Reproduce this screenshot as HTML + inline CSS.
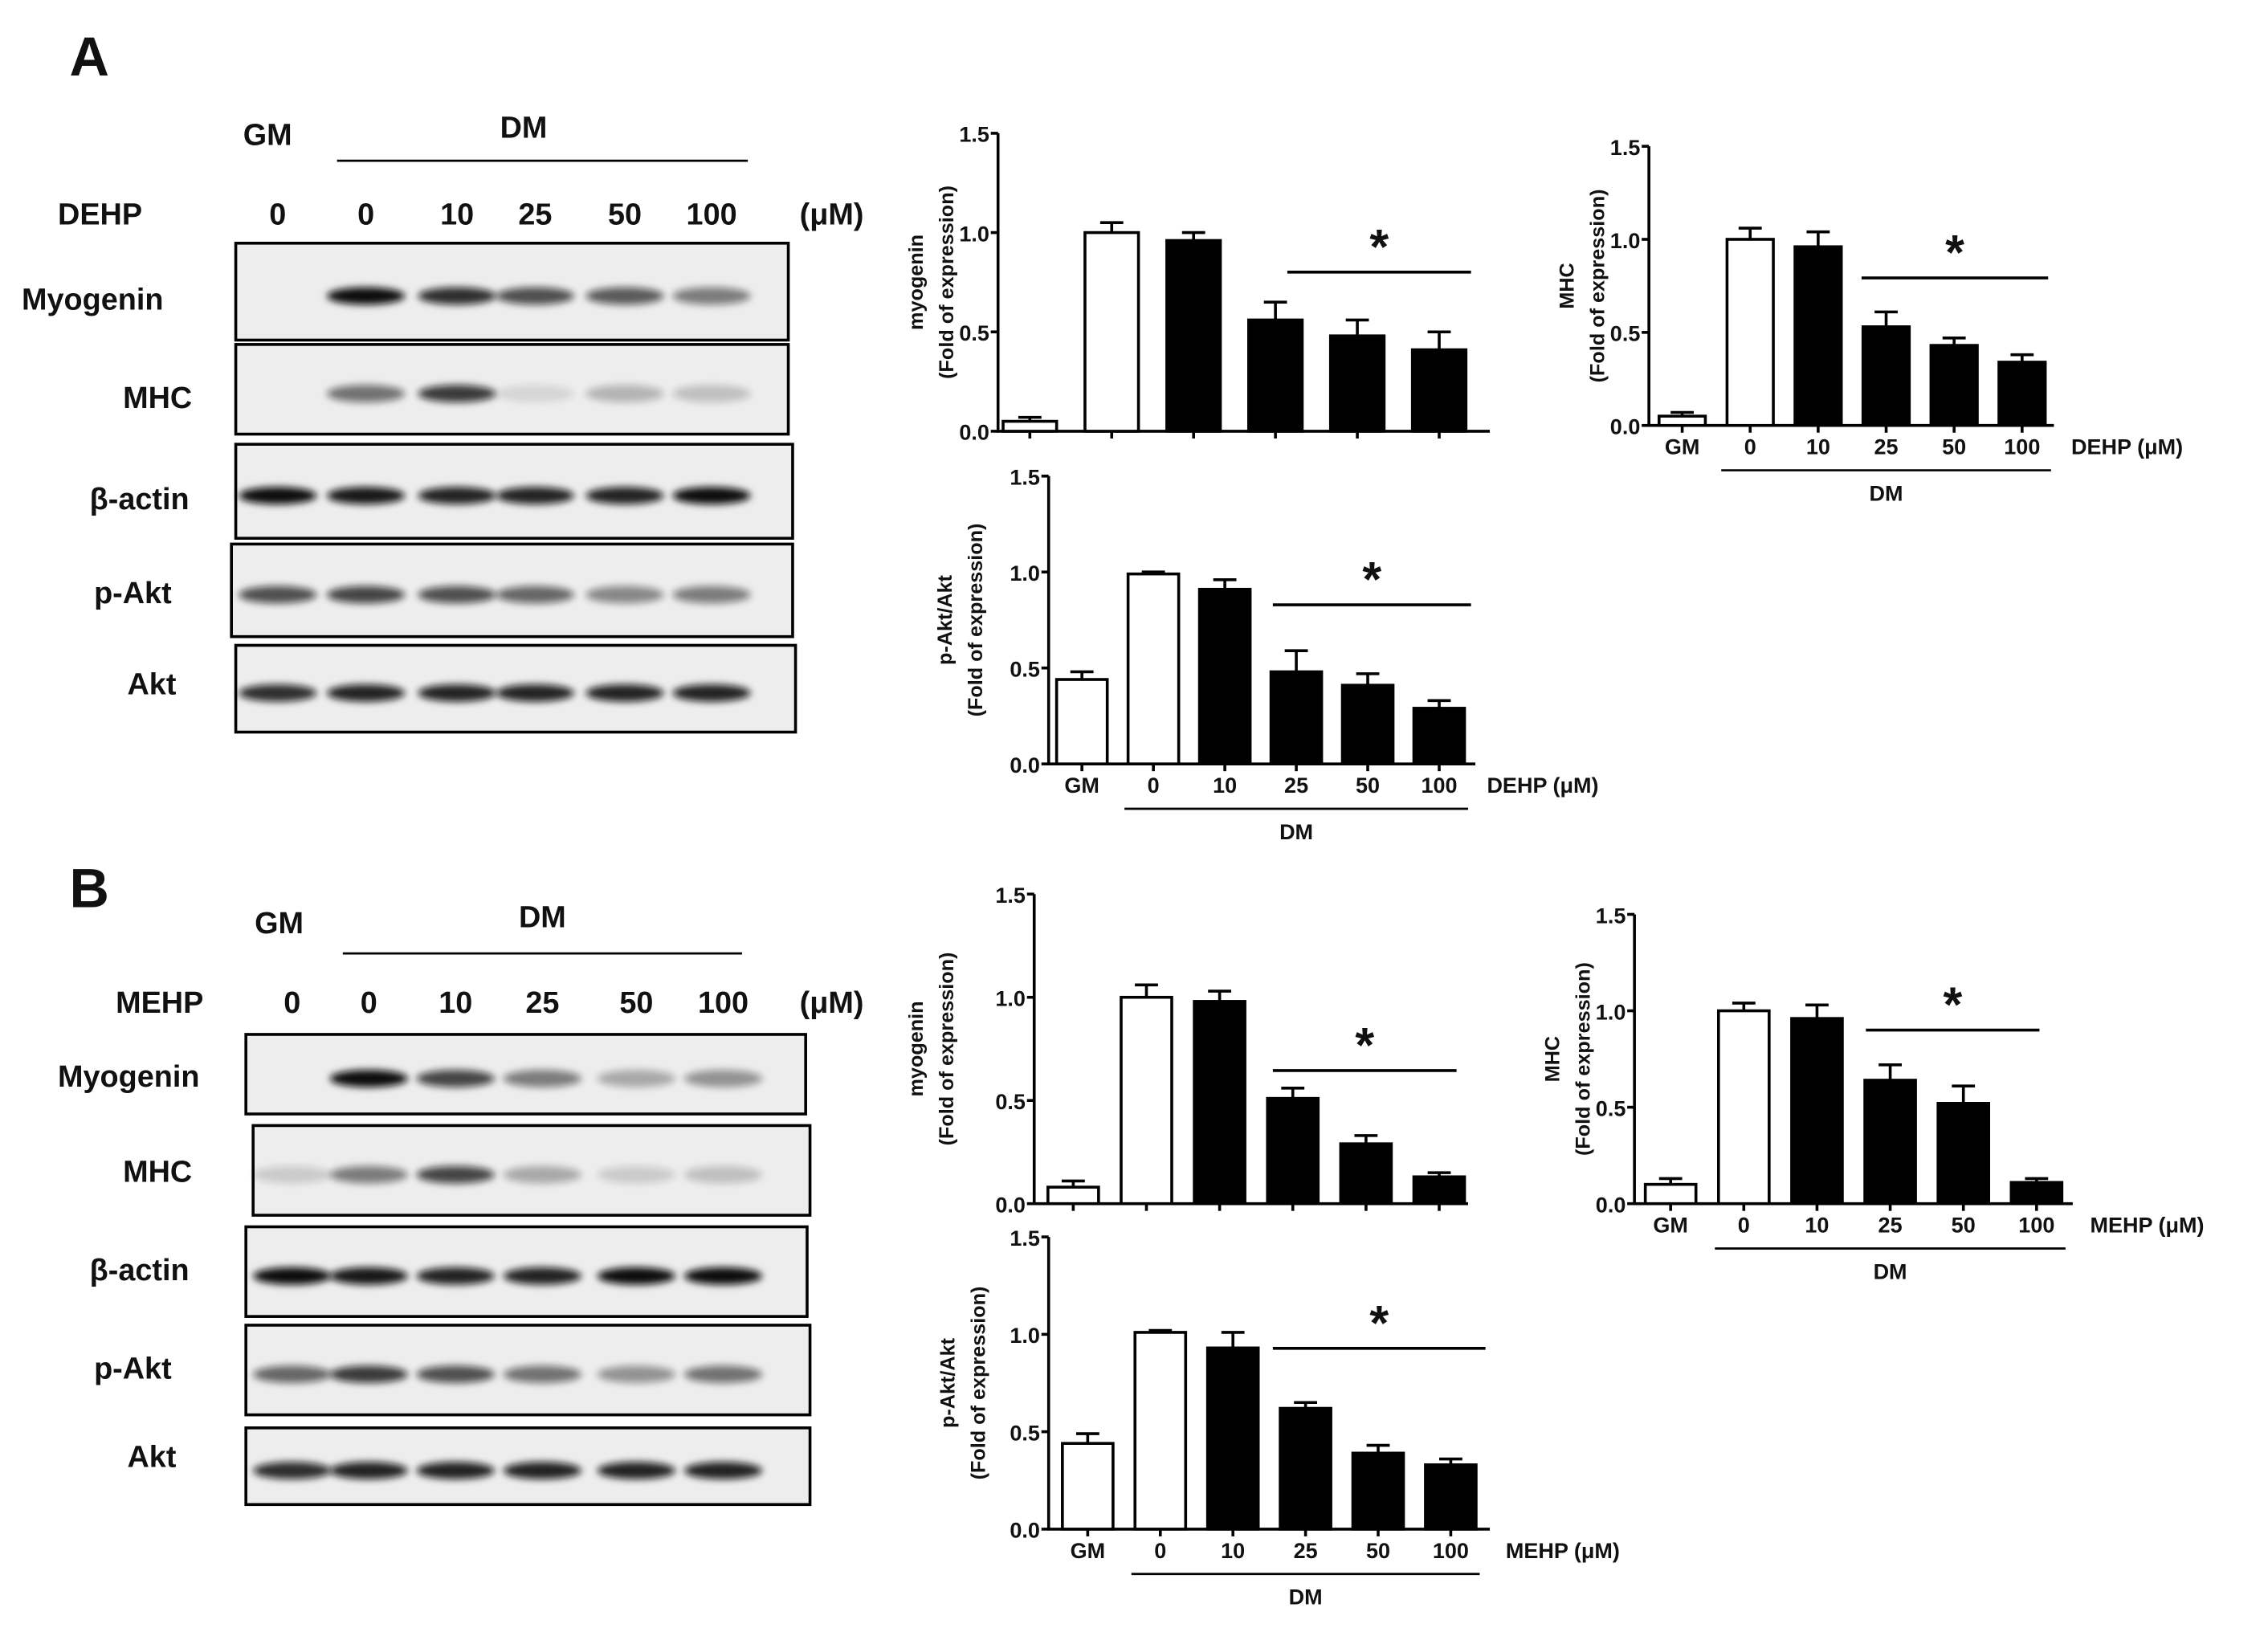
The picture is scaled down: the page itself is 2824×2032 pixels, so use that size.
<!DOCTYPE html>
<html><head><meta charset="utf-8"><style>
html,body{margin:0;padding:0;background:#fff;}
svg{display:block;font-family:"Liberation Sans",Arial,sans-serif;}
</style></head><body>
<svg id="fig" width="2824" height="2032" viewBox="0 0 1568 1128" xmlns="http://www.w3.org/2000/svg">
<defs>
<filter id="blur" x="-20%" y="-100%" width="140%" height="300%"><feGaussianBlur stdDeviation="2.5"/></filter>
</defs>
<g id="root"></g>
</svg>
<script>
// ---------- chart data ----------
const categories = ["GM","0","10","25","50","100"];
const yTicks = [0, 0.5, 1.0, 1.5];
const yTickLabels = ["0.0","0.5","1.0","1.5"];
const a1Values = [0.05, 1.0, 0.96, 0.56, 0.48, 0.41];
const a1Errors = [0.02, 0.05, 0.04, 0.09, 0.08, 0.09];
const a2Values = [0.05, 1.0, 0.96, 0.53, 0.43, 0.34];
const a2Errors = [0.02, 0.06, 0.08, 0.08, 0.04, 0.04];
const a3Values = [0.44, 0.99, 0.91, 0.48, 0.41, 0.29];
const a3Errors = [0.04, 0.01, 0.05, 0.11, 0.06, 0.04];
const b1Values = [0.08, 1.0, 0.98, 0.51, 0.29, 0.13];
const b1Errors = [0.03, 0.06, 0.05, 0.05, 0.04, 0.02];
const b2Values = [0.10, 1.0, 0.96, 0.64, 0.52, 0.11];
const b2Errors = [0.03, 0.04, 0.07, 0.08, 0.09, 0.02];
const b3Values = [0.44, 1.01, 0.93, 0.62, 0.39, 0.33];
const b3Errors = [0.05, 0.01, 0.08, 0.03, 0.04, 0.03];

const NS="http://www.w3.org/2000/svg";
const root=document.getElementById('root');
function el(tag,attrs,parent,text){const e=document.createElementNS(NS,tag);for(const k in attrs)e.setAttribute(k,attrs[k]);if(text!==undefined)e.textContent=text;(parent||root).appendChild(e);return e;}
function txt(x,y,s,size,name,parent,anchor,extra){const t=el('text',Object.assign({x:x,y:y,'font-size':size,'font-weight':'bold','text-anchor':anchor||'middle',fill:'#111'},extra||{}),parent,s);return t;}

function chart(cfg, values, errors){
  const g=el('g',{});
  
  
  const y0=cfg.y0, y1=cfg.y1;
  const ys=v=>y0-(v/1.5)*(y0-y1);
  const xs=i=>cfg.x0+cfg.first+i*cfg.step;
  const ax=el('path',{d:`M${cfg.ax} ${y1} V${y0} H${cfg.xend}`,stroke:'#000','stroke-width':2,fill:'none'},g);
  
  yTicks.forEach((t,i)=>{
    const tk=el('line',{x1:cfg.ax-5,x2:cfg.ax,y1:ys(t),y2:ys(t),stroke:'#000','stroke-width':2},g);
    
    txt(cfg.ax-6,ys(t)+6,yTickLabels[i],15,'y-tick-label',g,'end');
  });
  values.forEach((v,i)=>{
    const cx=xs(i), w=cfg.bw;
    const tk=el('line',{x1:cx,x2:cx,y1:y0,y2:y0+5,stroke:'#000','stroke-width':2},g);
    
    const eb=el('path',{d:`M${cx} ${ys(v)} V${ys(v+errors[i])} M${cx-8} ${ys(v+errors[i])} H${cx+8}`,stroke:'#000','stroke-width':2,fill:'none'},g);
    
    const b=el('rect',{x:cx-w/2,y:ys(v),width:w,height:y0-ys(v),fill:i<2?'#fff':'#000',stroke:'#000','stroke-width':2},g);
    
    if(cfg.labels) txt(cx,y0+20,categories[i],15,'x-tick-label',g);
  });
  if(cfg.labels){
    txt(cfg.unitX,y0+20,cfg.unit,15,'x-unit-label',g,'start');
    const dl=el('line',{x1:xs(1)-20,x2:xs(5)+20,y1:y0+31,y2:y0+31,stroke:'#000','stroke-width':1.5},g);
    
    txt((xs(1)+xs(5))/2,y0+52,'DM',15,'dm-label',g);
  }
  const sl=el('line',{x1:cfg.s1,x2:cfg.s2,y1:cfg.sy,y2:cfg.sy,stroke:'#000','stroke-width':2},g);
  
  txt((cfg.s1+cfg.s2)/2,cfg.sy-6,'*',34,'significance-star',g);
  const my=(y0+y1)/2;
  txt(cfg.lx,my,cfg.ylabel,14,'y-axis-title',g,'middle',{transform:`rotate(-90 ${cfg.lx} ${my})`});
  txt(cfg.lx+21,my,'(Fold of expression)',14,'y-axis-subtitle',g,'middle',{transform:`rotate(-90 ${cfg.lx+21} ${my})`});
}

// ---------- blots ----------
const laneIntA=[[0,1,.85,.7,.65,.5],[0,.55,.8,.1,.25,.2],[1,.95,.9,.9,.9,1],[.7,.75,.7,.6,.45,.5],[.85,.9,.9,.9,.9,.9]];
const laneIntB=[[0,1,.75,.5,.3,.4],[.15,.5,.75,.3,.15,.2],[1,.95,.9,.9,1,1],[.6,.8,.7,.55,.4,.55],[.85,.9,.9,.9,.9,.9]];
function blots(lanes, boxes, labels, intens, prefix){
  boxes.forEach((b,r)=>{
    const g=el('g',{});
    
    
    el('rect',{x:b[0],y:b[1],width:b[2]-b[0],height:b[3]-b[1],fill:'#ededed'},g);
    const cy=(b[1]+b[3])/2;
    lanes.forEach((lx,i)=>{
      const a=intens[r][i]; if(a<=0) return;
      el('ellipse',{cx:lx,cy:cy+3,rx:27,ry:6,fill:'#111',opacity:a,filter:'url(#blur)'},g);
    });
    el('rect',{x:b[0],y:b[1],width:b[2]-b[0],height:b[3]-b[1],fill:'none',stroke:'#000','stroke-width':2},g);
    txt(labels[r].x,labels[r].y,labels[r].t,21,'blot-label',g,'start');
  });
}

// Panel A
txt(48,52,'A',38,'panel-a-label',null,'start');
txt(185,100,'GM',21,'gm-label');
txt(362,95,'DM',21,'dm-label');
let l=el('line',{x1:233,x2:517,y1:111,y2:111,stroke:'#000','stroke-width':1.5});
txt(40,155,'DEHP',21,'treatment-label',null,'start');
[[192,'0'],[253,'0'],[316,'10'],[370,'25'],[432,'50'],[492,'100']].forEach(d=>txt(d[0],155,d[1],21,'dose-label'));
txt(575,155,'(μM)',21,'unit-label');
blots([192,253,316,370,432,492],
 [[163,168,545,235],[163,238,545,300],[163,307,548,372],[160,376,548,440],[163,446,550,506]],
 [{t:'Myogenin',x:15,y:214,name:'myogenin'},{t:'MHC',x:85,y:282,name:'mhc'},{t:'β-actin',x:62,y:352,name:'actin'},{t:'p-Akt',x:65,y:417,name:'pakt'},{t:'Akt',x:88,y:480,name:'akt'}],
 laneIntA,'a');

// Panel B
txt(48,627,'B',38,'panel-b-label',null,'start');
txt(193,645,'GM',21,'gm-label');
txt(375,641,'DM',21,'dm-label');
l=el('line',{x1:237,x2:513,y1:659,y2:659,stroke:'#000','stroke-width':1.5});
txt(80,700,'MEHP',21,'treatment-label',null,'start');
[[202,'0'],[255,'0'],[315,'10'],[375,'25'],[440,'50'],[500,'100']].forEach(d=>txt(d[0],700,d[1],21,'dose-label'));
txt(575,700,'(μM)',21,'unit-label');
blots([202,255,315,375,440,500],
 [[170,715,557,770],[175,778,560,840],[170,848,558,910],[170,916,560,978],[170,987,560,1040]],
 [{t:'Myogenin',x:40,y:751,name:'myogenin'},{t:'MHC',x:85,y:817,name:'mhc'},{t:'β-actin',x:62,y:885,name:'actin'},{t:'p-Akt',x:65,y:953,name:'pakt'},{t:'Akt',x:88,y:1014,name:'akt'}],
 laneIntB,'b');

// Charts
chart({name:'chart-a-myogenin',ax:690,x0:690,first:22,step:56.6,bw:37,y0:298,y1:92,xend:1030,s1:890,s2:1017,sy:188,lx:638,ylabel:'myogenin',labels:false},a1Values,a1Errors);
chart({name:'chart-a-mhc',ax:1140,x0:1140,first:23,step:47,bw:32,y0:294,y1:101,xend:1420,s1:1287,s2:1416,sy:192,lx:1088,ylabel:'MHC',labels:true,unit:'DEHP (μM)',unitX:1432},a2Values,a2Errors);
chart({name:'chart-a-pakt',ax:725,x0:725,first:23,step:49.4,bw:35,y0:528,y1:329,xend:1020,s1:880,s2:1017,sy:418,lx:658,ylabel:'p-Akt/Akt',labels:true,unit:'DEHP (μM)',unitX:1028},a3Values,a3Errors);
chart({name:'chart-b-myogenin',ax:715,x0:715,first:27,step:50.6,bw:35,y0:832,y1:618,xend:1015,s1:880,s2:1007,sy:740,lx:638,ylabel:'myogenin',labels:false},b1Values,b1Errors);
chart({name:'chart-b-mhc',ax:1130,x0:1130,first:25,step:50.6,bw:35,y0:832,y1:632,xend:1433,s1:1290,s2:1410,sy:712,lx:1078,ylabel:'MHC',labels:true,unit:'MEHP (μM)',unitX:1445},b2Values,b2Errors);
chart({name:'chart-b-pakt',ax:725,x0:725,first:27,step:50.2,bw:35,y0:1057,y1:855,xend:1030,s1:880,s2:1027,sy:932,lx:660,ylabel:'p-Akt/Akt',labels:true,unit:'MEHP (μM)',unitX:1041},b3Values,b3Errors);
</script>
</body></html>
